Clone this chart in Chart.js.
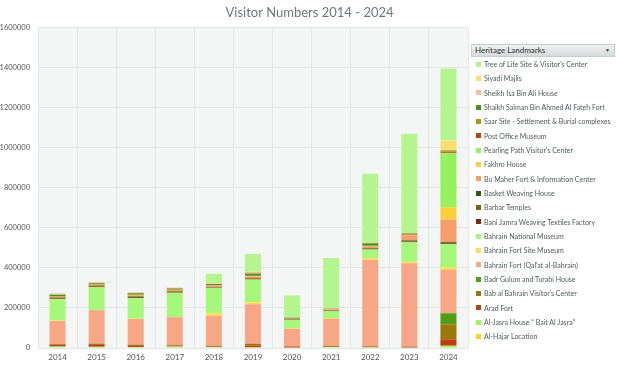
<!DOCTYPE html>
<html>
<head>
<meta charset="utf-8">
<script src="https://cdn.jsdelivr.net/npm/chart.js@4.4.1/dist/chart.umd.min.js"></script>
<style>
  body { margin: 0; background: #fff; font-family: Lato, "Open Sans", sans-serif; }
  #wrap { position: relative; width: 619px; height: 366px; }
  #legend { position: absolute; left: 471px; top: 44px; width: 144px; }
  #legend .head {
    height: 11px; line-height: 11px; font-size: 8px; color: #333;
    padding-left: 3px; position: relative;
    background: linear-gradient(#f0f2f2, #d6dada); border: 1px solid #c8cdcd;
  }
  #legend .head span { position: absolute; right: 4px; top: 0; font-size: 5px; color: #333; }
  #legend .item { height: 14.34px; display: flex; align-items: center; white-space: nowrap; }
  #legend .sw { width: 5px; height: 5px; margin-left: 5px; margin-right: 3px; flex: none; }
  #legend .txt { font-size: 7px; color: #4f5b5b; }
</style>
</head>
<body>
<div id="wrap">
  <canvas id="grafica" width="619" height="366"></canvas>
  <div id="legend"></div>
</div>
<script>
"use strict";

// eje X
const years = ["2014", "2015", "2016", "2017", "2018", "2019", "2020", "2021", "2022", "2023", "2024"];

// series, de abajo hacia arriba en la pila
const alHajar      = [3000, 3000, 3000, 2000, 2000, 2000, 2000, 3000, 2000, 2000, 3000];
const alJasra      = [4000, 3000, 2000, 6000, 3000, 2000, 1000, 2000, 2000, 1000, 8000];
const aradFort     = [10000, 13000, 9000, 4000, 2000, 8000, 3000, 1000, 1000, 2000, 33000];
const babAlBahrain = [2000, 1000, 2000, 2000, 3000, 8000, 3000, 5000, 4000, 3000, 75000];
const badrGulum    = [1000, 1000, 1000, 1000, 1000, 1000, 0, 0, 0, 0, 55000];
const bahrainFort  = [115000, 168000, 128000, 138000, 150000, 198000, 87000, 135000, 432000, 415000, 216000];
const fortMuseum   = [2000, 1000, 1000, 1000, 12000, 10000, 1000, 4000, 8000, 8000, 12000];
const nationalMus  = [108000, 115000, 102000, 122000, 125000, 113000, 44000, 33000, 43000, 97000, 117000];
const baniJamra    = [2000, 2000, 1000, 2000, 1000, 3000, 2000, 2000, 2000, 3000, 4000];
const barbar       = [4000, 4000, 6000, 5000, 3000, 3000, 3000, 2000, 3000, 4000, 3000];
const basket       = [1000, 1000, 2000, 1000, 1000, 1000, 1000, 1000, 2000, 3000, 3000];
const buMaher      = [3000, 3000, 4000, 4000, 8000, 8000, 1000, 5000, 8000, 24000, 112000];
const fakhro       = [1000, 1000, 1000, 1000, 1000, 1000, 0, 0, 1000, 1000, 62000];
const pearling     = [0, 0, 0, 0, 0, 0, 0, 0, 0, 0, 270000];
const postOffice   = [1000, 1000, 1000, 1000, 1000, 1000, 1000, 1000, 1000, 3000, 5000];
const saarSite     = [3000, 4000, 4000, 3000, 2000, 2000, 1000, 1000, 2000, 2000, 5000];
const shaikhSalman = [6000, 4000, 6000, 4000, 4000, 11000, 1000, 1000, 12000, 4000, 3000];
const sheikhIsa    = [5000, 3000, 4000, 4000, 3000, 8000, 1000, 3000, 4000, 2000, 3000];
const siyadi       = [0, 0, 0, 0, 1000, 1000, 0, 0, 0, 0, 47000];
const treeOfLife   = [2000, 0, 1000, 1000, 48000, 88000, 110000, 250000, 343000, 496000, 360000];

const landmarks = [
    "Al-Hajar Location",
    "Al-Jasra House \u201c Bait Al Jasra\u201d",
    "Arad Fort",
    "Bab al Bahrain Visitor's Center",
    "Badr Gulum and Turabi House",
    "Bahrain Fort (Qal'at al-Bahrain)",
    "Bahrain Fort Site Museum",
    "Bahrain National Museum",
    "Bani Jamra Weaving Textiles Factory",
    "Barbar Temples",
    "Basket Weaving House",
    "Bu Maher Fort & Information Center",
    "Fakhro House",
    "Pearling Path Visitor's Center",
    "Post Office Museum",
    "Saar Site - Settlement & Burial complexes",
    "Shaikh Salman Bin Ahmed Al Fateh Fort",
    "Sheikh Isa Bin Ali House",
    "Siyadi Majlis",
    "Tree of Life  Site & Visitor's Center"
];

const values = [alHajar, alJasra, aradFort, babAlBahrain, badrGulum, bahrainFort, fortMuseum,
    nationalMus, baniJamra, barbar, basket, buMaher, fakhro, pearling, postOffice, saarSite,
    shaikhSalman, sheikhIsa, siyadi, treeOfLife];

const colores = ["#ffd21f", "#9ef55a", "#bf3c0c", "#9a780c", "#4f9e14", "#f7a686", "#ffdc52",
    "#a6f77a", "#7a2a12", "#7d6412", "#2f5c12", "#f79c6b", "#ffcf3a", "#96f25c", "#c2410f",
    "#b8930f", "#4a9612", "#f9b9a0", "#ffe06e", "#b5f590"];

const datasets = landmarks.map((nombre, i) => ({
    label: nombre,
    data: values[i],
    backgroundColor: colores[i],
    borderWidth: 0,
    barPercentage: 0.41,
    categoryPercentage: 1
}));

// fondo gris del area de la grafica
const fondo = {
    id: "fondo",
    beforeDraw(chart) {
        const { ctx, chartArea } = chart;
        ctx.save();
        ctx.fillStyle = "#f4f6f6";
        ctx.fillRect(chartArea.left, chartArea.top, chartArea.width, chartArea.height);
        ctx.restore();
    }
};

const ctx = document.getElementById("grafica").getContext("2d");

new Chart(ctx, {
    type: "bar",
    data: { labels: years, datasets: datasets },
    options: {
        responsive: false,
        animation: false,
        devicePixelRatio: 1,
        plugins: {
            legend: { display: false },
            tooltip: { enabled: false },
            title: {
                display: true,
                text: "Visitor Numbers 2014 - 2024",
                color: "#6b7878",
                font: { family: "Lato", size: 13, weight: "normal" },
                padding: { top: 5, bottom: 7 }
            }
        },
        scales: {
            x: {
                stacked: true,
                grid: { color: "#e2e6e6", drawTicks: false },
                border: { display: false },
                ticks: { color: "#555", font: { family: "Lato", size: 8 }, padding: 5 },
                afterFit: s => { s.height = 18; }
            },
            y: {
                stacked: true,
                min: 0,
                max: 1600000,
                grid: { color: "#e2e6e6", drawTicks: false },
                border: { display: false },
                ticks: {
                    stepSize: 200000,
                    color: "#555",
                    font: { family: "Lato", size: 7.5 },
                    padding: 8,
                    callback: v => String(v)
                },
                afterFit: s => { s.width = 38; }
            },
            // espacio reservado para la leyenda
            hueco: {
                position: "right",
                grid: { display: false },
                border: { display: false },
                ticks: { display: false },
                afterFit: s => { s.width = 151; }
            }
        }
    },
    plugins: [fondo]
});

// leyenda en html, de arriba (ultima serie) hacia abajo
const legend = document.getElementById("legend");
let html = '<div class="head">Heritage Landmarks<span>&#9660;</span></div>';
for (let i = landmarks.length - 1; i >= 0; i--) {
    html += '<div class="item"><div class="sw" style="background:' + colores[i] + '"></div>' +
        '<div class="txt">' + landmarks[i].replace(/&/g, "&amp;") + '</div></div>';
}
legend.innerHTML = html;
</script>
</body>
</html>
